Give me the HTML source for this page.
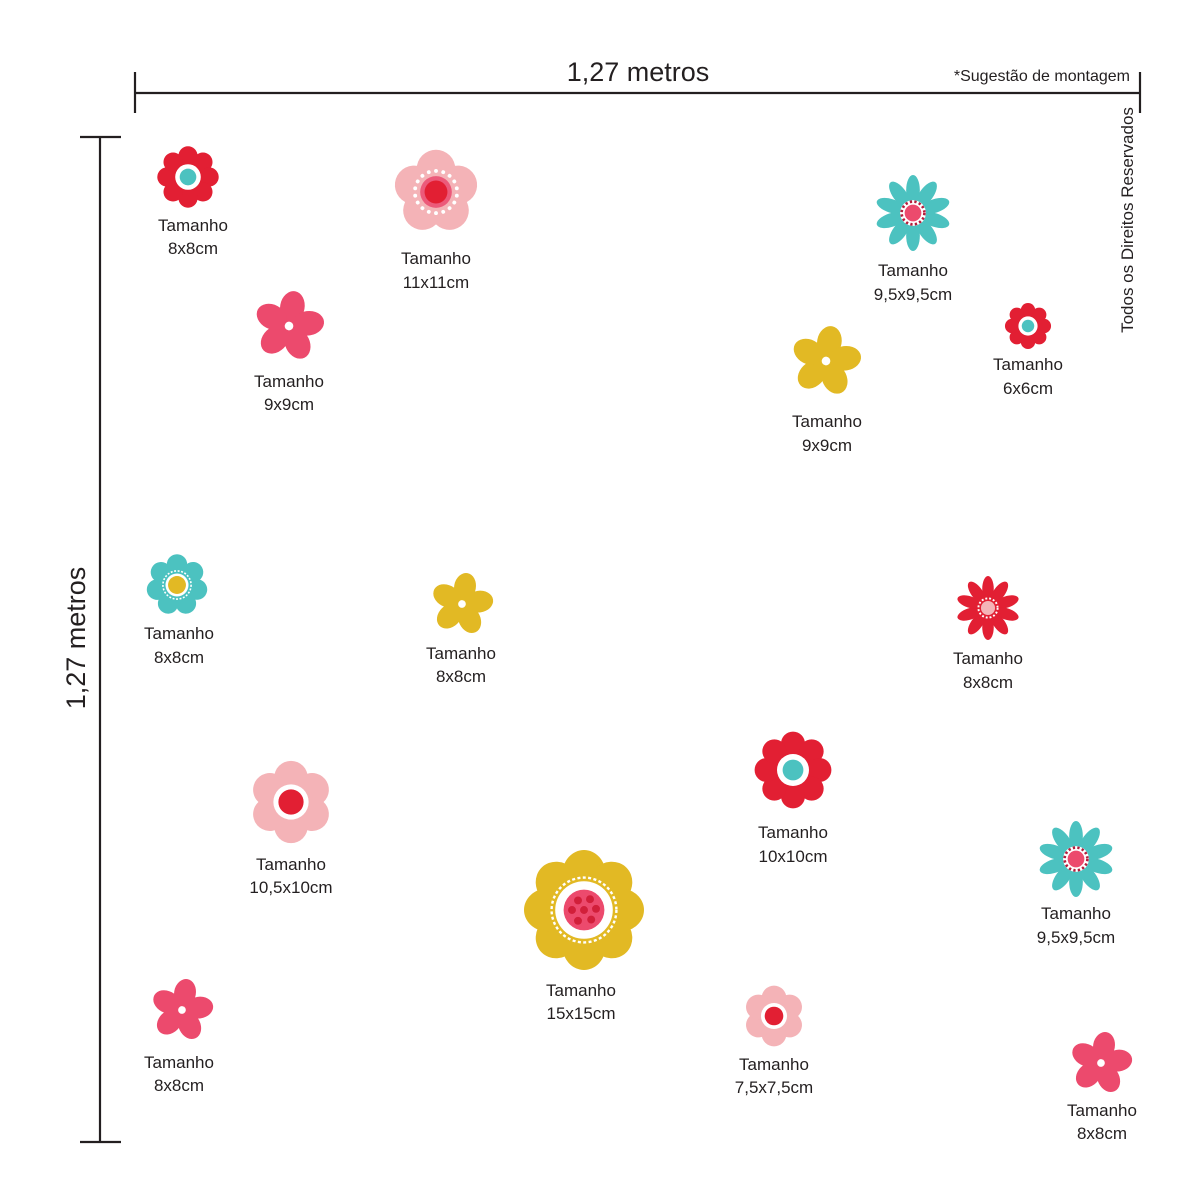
<!DOCTYPE html>
<html><head><meta charset="utf-8"><style>
html,body{margin:0;padding:0;background:#fff}
svg{display:block}
text{font-family:"Liberation Sans",sans-serif;fill:#231f20}
.l{font-size:17px;text-anchor:middle}
</style></head><body>
<svg width="1200" height="1200" viewBox="0 0 1200 1200" xmlns="http://www.w3.org/2000/svg">
<defs>
  <circle id="d" r="2.2" fill="#fff"/>
  <g id="ringW">
    <use href="#d" transform="rotate(0) translate(0,-24)"/><use href="#d" transform="rotate(20) translate(0,-24)"/><use href="#d" transform="rotate(40) translate(0,-24)"/>
    <use href="#d" transform="rotate(60) translate(0,-24)"/><use href="#d" transform="rotate(80) translate(0,-24)"/><use href="#d" transform="rotate(100) translate(0,-24)"/>
    <use href="#d" transform="rotate(120) translate(0,-24)"/><use href="#d" transform="rotate(140) translate(0,-24)"/><use href="#d" transform="rotate(160) translate(0,-24)"/>
    <use href="#d" transform="rotate(180) translate(0,-24)"/><use href="#d" transform="rotate(200) translate(0,-24)"/><use href="#d" transform="rotate(220) translate(0,-24)"/>
    <use href="#d" transform="rotate(240) translate(0,-24)"/><use href="#d" transform="rotate(260) translate(0,-24)"/><use href="#d" transform="rotate(280) translate(0,-24)"/>
    <use href="#d" transform="rotate(300) translate(0,-24)"/><use href="#d" transform="rotate(320) translate(0,-24)"/><use href="#d" transform="rotate(340) translate(0,-24)"/>
  </g>
  <g id="A">
    <circle r="31" fill="#e21f33"/>
    <g fill="#e21f33">
      <circle cy="-33" r="15"/><circle cy="-33" r="15" transform="rotate(45)"/><circle cy="-33" r="15" transform="rotate(90)"/><circle cy="-33" r="15" transform="rotate(135)"/>
      <circle cy="-33" r="15" transform="rotate(180)"/><circle cy="-33" r="15" transform="rotate(225)"/><circle cy="-33" r="15" transform="rotate(270)"/><circle cy="-33" r="15" transform="rotate(315)"/>
    </g>
    <circle r="20" fill="#fff"/><circle r="13" fill="#4cc2c0"/>
  </g>
  <g id="B">
    <g fill="#f4b3b7">
      <circle r="28"/>
      <circle cy="-26" r="22"/><circle cy="-26" r="22" transform="rotate(72)"/><circle cy="-26" r="22" transform="rotate(144)"/><circle cy="-26" r="22" transform="rotate(216)"/><circle cy="-26" r="22" transform="rotate(288)"/>
    </g>
    <use href="#ringW"/>
    <circle r="18" fill="#ec5a7a"/><circle r="13" fill="#e21f33"/>
  </g>
  <g id="C">
    <g fill="#ec4a6d">
      <circle r="14"/>
      <ellipse cy="-27" rx="17" ry="22"/><ellipse cy="-27" rx="17" ry="22" transform="rotate(72)"/><ellipse cy="-27" rx="17" ry="22" transform="rotate(144)"/><ellipse cy="-27" rx="17" ry="22" transform="rotate(216)"/><ellipse cy="-27" rx="17" ry="22" transform="rotate(288)"/>
    </g>
    <circle r="6" fill="#fff"/>
  </g>
  <g id="E">
    <g fill="#e2b924">
      <circle r="14"/>
      <ellipse cy="-27" rx="17" ry="22"/><ellipse cy="-27" rx="17" ry="22" transform="rotate(72)"/><ellipse cy="-27" rx="17" ry="22" transform="rotate(144)"/><ellipse cy="-27" rx="17" ry="22" transform="rotate(216)"/><ellipse cy="-27" rx="17" ry="22" transform="rotate(288)"/>
    </g>
    <circle r="6" fill="#fff"/>
  </g>
  <g id="D">
    <g fill="#4cc2c0">
      <ellipse cy="-30" rx="9" ry="20"/><ellipse cy="-30" rx="9" ry="20" transform="rotate(36)"/><ellipse cy="-30" rx="9" ry="20" transform="rotate(72)"/><ellipse cy="-30" rx="9" ry="20" transform="rotate(108)"/><ellipse cy="-30" rx="9" ry="20" transform="rotate(144)"/>
      <ellipse cy="-30" rx="9" ry="20" transform="rotate(180)"/><ellipse cy="-30" rx="9" ry="20" transform="rotate(216)"/><ellipse cy="-30" rx="9" ry="20" transform="rotate(252)"/><ellipse cy="-30" rx="9" ry="20" transform="rotate(288)"/><ellipse cy="-30" rx="9" ry="20" transform="rotate(324)"/>
    </g>
    <circle r="17" fill="#fff"/><circle r="15" fill="none" stroke="#b51d3b" stroke-width="3.5" stroke-dasharray="3 3"/><circle r="11" fill="#ec4a6d"/>
  </g>
  <g id="G">
    <g fill="#e21f33">
      <ellipse cy="-30" rx="9" ry="20"/><ellipse cy="-30" rx="9" ry="20" transform="rotate(36)"/><ellipse cy="-30" rx="9" ry="20" transform="rotate(72)"/><ellipse cy="-30" rx="9" ry="20" transform="rotate(108)"/><ellipse cy="-30" rx="9" ry="20" transform="rotate(144)"/>
      <ellipse cy="-30" rx="9" ry="20" transform="rotate(180)"/><ellipse cy="-30" rx="9" ry="20" transform="rotate(216)"/><ellipse cy="-30" rx="9" ry="20" transform="rotate(252)"/><ellipse cy="-30" rx="9" ry="20" transform="rotate(288)"/><ellipse cy="-30" rx="9" ry="20" transform="rotate(324)"/>
    </g>
    <circle r="17" fill="#e21f33"/><circle r="15" fill="none" stroke="#fff" stroke-width="3" stroke-dasharray="3 3"/><circle r="11" fill="#f4b3b7"/>
  </g>
  <g id="F">
    <g fill="#4cc2c0">
      <circle r="30"/>
      <circle cy="-32" r="16"/><circle cy="-32" r="16" transform="rotate(51.4)"/><circle cy="-32" r="16" transform="rotate(102.8)"/><circle cy="-32" r="16" transform="rotate(154.3)"/><circle cy="-32" r="16" transform="rotate(205.7)"/><circle cy="-32" r="16" transform="rotate(257)"/><circle cy="-32" r="16" transform="rotate(308.5)"/>
    </g>
    <circle r="22" fill="none" stroke="#fff" stroke-width="2.5" stroke-dasharray="3 2.5"/>
    <circle r="18" fill="#fff"/><circle r="14" fill="#e2b924"/>
  </g>
  <g id="H">
    <g fill="#f4b3b7">
      <circle r="30"/>
      <circle cy="-29" r="20"/><circle cy="-29" r="20" transform="rotate(60)"/><circle cy="-29" r="20" transform="rotate(120)"/><circle cy="-29" r="20" transform="rotate(180)"/><circle cy="-29" r="20" transform="rotate(240)"/><circle cy="-29" r="20" transform="rotate(300)"/>
    </g>
    <circle r="21" fill="#fff"/><circle r="15" fill="#e21f33"/>
  </g>
  <g id="I">
    <g fill="#e2b924">
      <circle r="34"/>
      <ellipse cy="-30" rx="18" ry="20"/><ellipse cy="-30" rx="18" ry="20" transform="rotate(45)"/><ellipse cy="-30" rx="18" ry="20" transform="rotate(90)"/><ellipse cy="-30" rx="18" ry="20" transform="rotate(135)"/>
      <ellipse cy="-30" rx="18" ry="20" transform="rotate(180)"/><ellipse cy="-30" rx="18" ry="20" transform="rotate(225)"/><ellipse cy="-30" rx="18" ry="20" transform="rotate(270)"/><ellipse cy="-30" rx="18" ry="20" transform="rotate(315)"/>
    </g>
    <circle r="27" fill="none" stroke="#fff" stroke-width="2" stroke-dasharray="2.5 2"/>
    <circle r="24" fill="#fff"/><circle r="17" fill="#ec4a6d"/>
    <g fill="#d11f3a"><circle r="3.3"/><circle cx="-5" cy="-8" r="3.3"/><circle cx="5" cy="-9" r="3.3"/><circle cx="10" cy="-1" r="3.3"/><circle cx="6" cy="8" r="3.3"/><circle cx="-5" cy="9" r="3.3"/><circle cx="-10" cy="0" r="3.3"/></g>
  </g>
</defs>

<g stroke="#231f20" stroke-width="2.2">
  <line x1="135" y1="93" x2="1140" y2="93"/>
  <line x1="135" y1="72" x2="135" y2="113"/>
  <line x1="1140" y1="72" x2="1140" y2="113"/>
  <line x1="100" y1="137" x2="100" y2="1142"/>
  <line x1="80" y1="137" x2="121" y2="137"/>
  <line x1="80" y1="1142" x2="121" y2="1142"/>
</g>
<text x="638" y="81" font-size="27" text-anchor="middle">1,27 metros</text>
<text x="1130" y="81" font-size="16" text-anchor="end">*Sugestão de montagem</text>
<text transform="translate(1133,220) rotate(-90)" font-size="17" text-anchor="middle">Todos os Direitos Reservados</text>
<text transform="translate(85,638) rotate(-90)" font-size="27" text-anchor="middle">1,27 metros</text>

<use href="#A" transform="translate(188,177) scale(0.64)"/>
<use href="#B" transform="translate(436,192) scale(0.88)"/>
<use href="#D" transform="translate(913,213) scale(0.76)"/>
<use href="#C" transform="translate(289,326) scale(0.72) rotate(10)"/>
<use href="#A" transform="translate(1028,326) scale(0.48)"/>
<use href="#E" transform="translate(826,361) scale(0.72) rotate(10)"/>
<use href="#F" transform="translate(177,585) scale(0.64)"/>
<use href="#E" transform="translate(462,604) scale(0.64) rotate(10)"/>
<use href="#G" transform="translate(988,608) scale(0.64)"/>
<use href="#H" transform="translate(291,802) scale(0.84)"/>
<use href="#A" transform="translate(793,770) scale(0.80)"/>
<use href="#D" transform="translate(1076,859) scale(0.76)"/>
<use href="#I" transform="translate(584,910) scale(1.20)"/>
<use href="#C" transform="translate(182,1010) scale(0.64) rotate(10)"/>
<use href="#H" transform="translate(774,1016) scale(0.62)"/>
<use href="#C" transform="translate(1101,1063) scale(0.64) rotate(10)"/>

<g>
<text class="l" x="193" y="231">Tamanho</text><text class="l" x="193" y="254">8x8cm</text>
<text class="l" x="436" y="264">Tamanho</text><text class="l" x="436" y="288">11x11cm</text>
<text class="l" x="913" y="276">Tamanho</text><text class="l" x="913" y="300">9,5x9,5cm</text>
<text class="l" x="289" y="387">Tamanho</text><text class="l" x="289" y="410">9x9cm</text>
<text class="l" x="1028" y="370">Tamanho</text><text class="l" x="1028" y="394">6x6cm</text>
<text class="l" x="827" y="427">Tamanho</text><text class="l" x="827" y="451">9x9cm</text>
<text class="l" x="179" y="639">Tamanho</text><text class="l" x="179" y="663">8x8cm</text>
<text class="l" x="461" y="659">Tamanho</text><text class="l" x="461" y="682">8x8cm</text>
<text class="l" x="988" y="664">Tamanho</text><text class="l" x="988" y="688">8x8cm</text>
<text class="l" x="291" y="870">Tamanho</text><text class="l" x="291" y="893">10,5x10cm</text>
<text class="l" x="793" y="838">Tamanho</text><text class="l" x="793" y="862">10x10cm</text>
<text class="l" x="1076" y="919">Tamanho</text><text class="l" x="1076" y="943">9,5x9,5cm</text>
<text class="l" x="581" y="996">Tamanho</text><text class="l" x="581" y="1019">15x15cm</text>
<text class="l" x="179" y="1068">Tamanho</text><text class="l" x="179" y="1091">8x8cm</text>
<text class="l" x="774" y="1070">Tamanho</text><text class="l" x="774" y="1093">7,5x7,5cm</text>
<text class="l" x="1102" y="1116">Tamanho</text><text class="l" x="1102" y="1139">8x8cm</text>
</g>
</svg>
</body></html>
